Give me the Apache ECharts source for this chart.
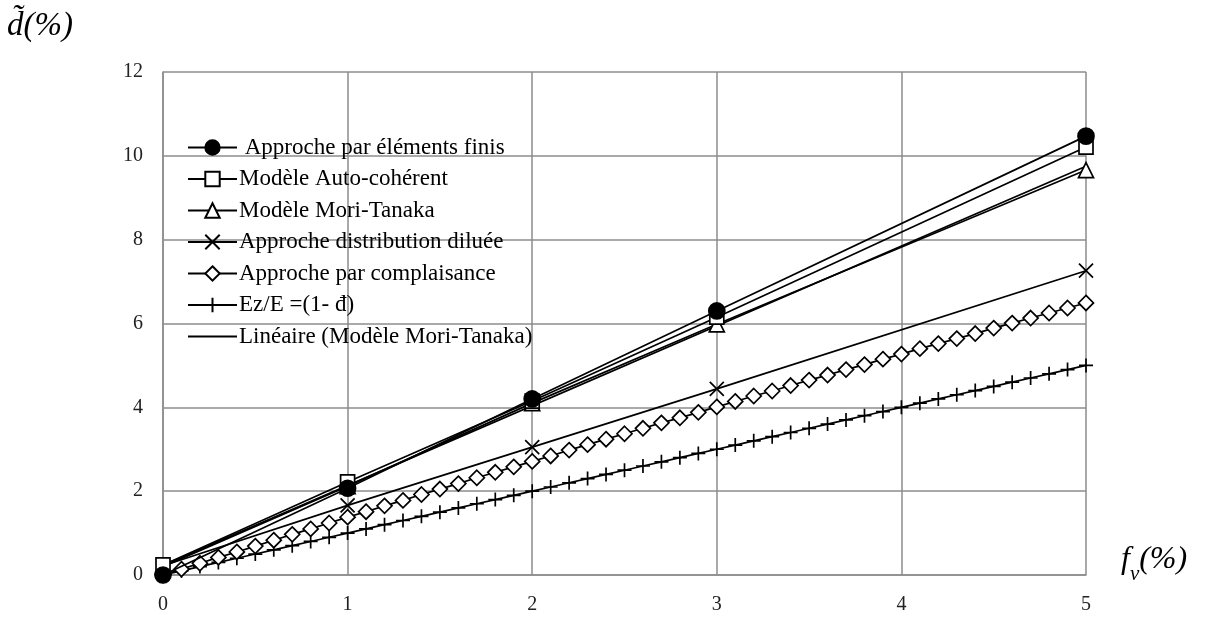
<!DOCTYPE html>
<html>
<head>
<meta charset="utf-8">
<script src="https://cdn.jsdelivr.net/npm/echarts@6/dist/echarts.min.js"></script>
<style>
  html, body { margin: 0; padding: 0; background: #fff; }
  #chart-container { width: 1210px; height: 617px; }
</style>
</head>
<body>
<div id="chart-container"></div>
<script>
var dom = document.getElementById("chart-container");
var myChart = echarts.init(dom, null, { renderer: "canvas" });

// coarse points (f_v in %)
var xCoarse = [0, 1, 2, 3, 5];
var elementsFinis = [0, 2.07, 4.2, 6.3, 10.47];
var autoCoherent = [0.24, 2.22, 4.15, 6.15, 10.21];
var moriTanaka = [0.2, 2.12, 4.1, 5.98, 9.66];
var distribDiluee = [0.22, 1.66, 3.05, 4.44, 7.26];

// trend line of Mori-Tanaka
var xTrend = [0, 5];
var trendMT = [0.23, 9.75];

// fine points, step 0.1
var xFine = [0, 0.1, 0.2, 0.3, 0.4, 0.5, 0.6, 0.7, 0.8, 0.9,
  1, 1.1, 1.2, 1.3, 1.4, 1.5, 1.6, 1.7, 1.8, 1.9,
  2, 2.1, 2.2, 2.3, 2.4, 2.5, 2.6, 2.7, 2.8, 2.9,
  3, 3.1, 3.2, 3.3, 3.4, 3.5, 3.6, 3.7, 3.8, 3.9,
  4, 4.1, 4.2, 4.3, 4.4, 4.5, 4.6, 4.7, 4.8, 4.9, 5];
var complaisance = [0, 0.14, 0.28, 0.42, 0.55, 0.69, 0.83, 0.97, 1.10, 1.24,
  1.38, 1.51, 1.65, 1.78, 1.92, 2.05, 2.18, 2.32, 2.45, 2.58,
  2.71, 2.84, 2.98, 3.11, 3.24, 3.37, 3.50, 3.63, 3.75, 3.88,
  4.01, 4.14, 4.27, 4.39, 4.52, 4.65, 4.77, 4.90, 5.02, 5.15,
  5.27, 5.40, 5.52, 5.64, 5.76, 5.89, 6.01, 6.13, 6.25, 6.37, 6.49];
var ezE = [0, 0.1, 0.2, 0.3, 0.4, 0.5, 0.6, 0.7, 0.8, 0.9,
  1, 1.1, 1.2, 1.3, 1.4, 1.5, 1.6, 1.7, 1.8, 1.9,
  2, 2.1, 2.2, 2.3, 2.4, 2.5, 2.6, 2.7, 2.8, 2.9,
  3, 3.1, 3.2, 3.3, 3.4, 3.5, 3.6, 3.7, 3.8, 3.9,
  4, 4.1, 4.2, 4.3, 4.4, 4.5, 4.6, 4.7, 4.8, 4.9, 5];

var seriesNames = [
  " Approche par éléments finis",
  "Modèle Auto-cohérent",
  "Modèle Mori-Tanaka",
  "Approche distribution diluée",
  "Approche par complaisance",
  "Ez/E =(1- đ)",
  "Linéaire (Modèle Mori-Tanaka)"
];

function pairs(xs, ys) {
  return xs.map(function (x, i) { return [x, ys[i]]; });
}

var serifFont = "Liberation Serif";
var crossPath = "path://M0,0L10,10M10,0L0,10";
var plusPath = "path://M5,0L5,10M0,5L10,5";

function mkLine(name, data, symbol, size, filled, z) {
  return {
    name: name,
    type: "line",
    data: data,
    symbol: symbol,
    symbolSize: size,
    showSymbol: symbol !== "none",
    z: z,
    animation: false,
    lineStyle: { color: "#000", width: 1.7 },
    itemStyle: {
      color: filled ? "#000" : "#fff",
      borderColor: "#000",
      borderWidth: 1.7
    }
  };
}

var legendData = seriesNames.map(function (n, i) {
  // the trend line shows a bare line in the legend
  return i === 6 ? { name: n, itemStyle: { opacity: 0 } } : { name: n };
});

var option = {
  backgroundColor: "#fff",
  textStyle: { fontFamily: serifFont },
  grid: { left: 163, right: 124, top: 72, bottom: 42 },
  legend: {
    orient: "vertical",
    left: 182,
    top: 131,
    itemWidth: 49,
    itemHeight: 18,
    itemGap: 8.5,
    textStyle: { fontFamily: serifFont, fontSize: 23, color: "#000", lineHeight: 23, padding: [0, 0, 0, -3] },
    data: legendData
  },
  xAxis: {
    type: "value",
    min: 0,
    max: 5,
    interval: 1,
    axisLine: { show: true, lineStyle: { color: "#8c8c8c", width: 1.5 } },
    axisTick: { show: false },
    axisLabel: { color: "#222", fontSize: 20, fontFamily: serifFont, margin: 20 },
    splitLine: { show: true, lineStyle: { color: "#8c8c8c", width: 1.5 } }
  },
  yAxis: {
    type: "value",
    min: 0,
    max: 12,
    interval: 2,
    axisLine: { show: true, lineStyle: { color: "#8c8c8c", width: 1.5 } },
    axisTick: { show: false },
    axisLabel: { color: "#222", fontSize: 20, fontFamily: serifFont, margin: 20 },
    splitLine: { show: true, lineStyle: { color: "#8c8c8c", width: 1.5 } }
  },
  graphic: [
    {
      type: "text",
      left: 7,
      top: 10,
      style: {
        text: "d\u0303(%)",
        font: "italic 33px 'Liberation Serif'",
        fill: "#000"
      }
    },
    {
      type: "text",
      left: 1121,
      top: 544,
      style: {
        text: "{f|f}{v|v}{f|(%)}",
        fill: "#000",
        rich: {
          f: { font: "italic 32px 'Liberation Serif'", fill: "#000", verticalAlign: "bottom" },
          v: { font: "italic 21px 'Liberation Serif'", fill: "#000", padding: [0, 0, -9, 0], verticalAlign: "bottom" }
        }
      }
    }
  ],
  series: [
    mkLine(seriesNames[0], pairs(xCoarse, elementsFinis), "circle", 16, true, 7),
    mkLine(seriesNames[1], pairs(xCoarse, autoCoherent), "rect", 14, false, 6),
    mkLine(seriesNames[2], pairs(xCoarse, moriTanaka), "triangle", 15, false, 5),
    mkLine(seriesNames[3], pairs(xCoarse, distribDiluee), crossPath, 14, false, 4),
    mkLine(seriesNames[4], pairs(xFine, complaisance), "diamond", 15, false, 3),
    mkLine(seriesNames[5], pairs(xFine, ezE), plusPath, 14, false, 2),
    mkLine(seriesNames[6], pairs(xTrend, trendMT), "none", 0, false, 1)
  ]
};

myChart.setOption(option);

window.addEventListener("resize", function () {
  myChart.resize();
});
</script>
</body>
</html>
